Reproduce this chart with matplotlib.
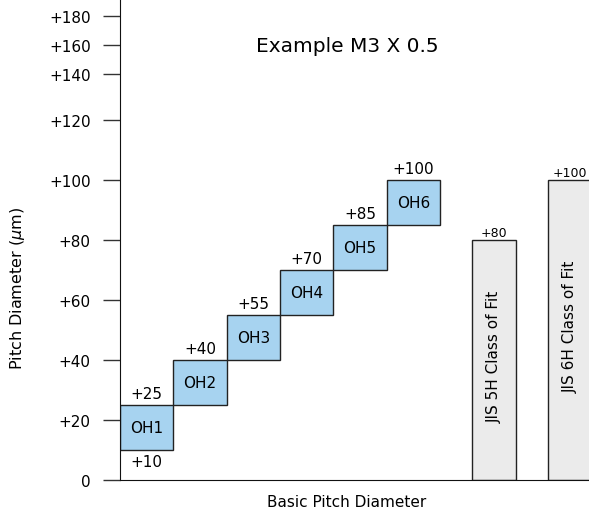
import numpy as np
import matplotlib
matplotlib.use("Agg")
import matplotlib.pyplot as plt

# tolerance classes (micrometres)
oh_names = ["OH1", "OH2", "OH3", "OH4", "OH5", "OH6"]
oh_low = [10, 25, 40, 55, 70, 85]
oh_high = [25, 40, 55, 70, 85, 100]

jis_names = ["JIS 5H Class of Fit", "JIS 6H Class of Fit"]
jis_high = [80, 100]
jis_pos = [6.6, 8.03]

tick_labels = ["0", "+20", "+40", "+60", "+80", "+100", "+120", "+140", "+160", "+180"]
# upper part of the axis is compressed in the reference drawing
tick_pos = [0, 20, 40, 60, 80, 100, 120, 135.2, 145, 154.7]

plt.rcParams['font.family'] = ['DejaVu Sans']

fig = plt.figure(figsize=(5.89, 5.10), dpi=100)
ax = fig.add_axes([120/589, 29/510, 469/589, 481/510])

blue = "#a7d3f0"
grey = "#ebebeb"
edge = "#222222"

x = np.arange(len(oh_names))
heights = np.array(oh_high) - np.array(oh_low)
ax.bar(x, heights, bottom=oh_low, width=1, align='edge', color=blue,
       edgecolor=edge, linewidth=1.0)
for i, name in enumerate(oh_names):
    xc = x[i] + 0.5
    ax.text(xc, (oh_low[i] + oh_high[i]) / 2, name, ha='center', va='center', fontsize=11)
    ax.text(xc, oh_high[i] + 1.2, "+%d" % oh_high[i], ha='center', va='bottom', fontsize=11)
ax.text(0.5, oh_low[0] - 1.5, "+%d" % oh_low[0], ha='center', va='top', fontsize=11)

jw = 0.83
ax.bar(jis_pos, jis_high, width=jw, align='edge', color=grey, edgecolor=edge,
       linewidth=1.0)
for p, h, name in zip(jis_pos, jis_high, jis_names):
    ax.text(p + jw / 2, h + 0.3, "+%d" % h, ha='center', va='bottom', fontsize=9,
            clip_on=False)
    ax.text(p + jw / 2, h / 2 + 1.5, name, ha='center', va='center', rotation=90, fontsize=11)

ax.set_xlim(0, 469/53.33)
ax.set_ylim(0, 481/3)
ax.set_yticks(tick_pos)
ax.set_yticklabels(tick_labels, fontsize=11)
ax.set_xticks([])
ax.tick_params(axis='y', direction='out', length=12, width=1, color='#333333', pad=9)
ax.spines['top'].set_visible(False)
ax.spines['right'].set_visible(False)
ax.spines['left'].set_color('#111111')
ax.spines['bottom'].set_color('#111111')

fig.text(347/589, 1 - 47/510, "Example M3 X 0.5", ha='center', va='center', fontsize=14.5)
fig.text(347/589, 1 - 503/510, "Basic Pitch Diameter", ha='center', va='center', fontsize=11)
fig.text(18/589, 1 - 288/510, r"Pitch Diameter ($\mu$m)", ha='center', va='center',
         rotation=90, fontsize=11.5)

fig.savefig("out.png", dpi=100)
